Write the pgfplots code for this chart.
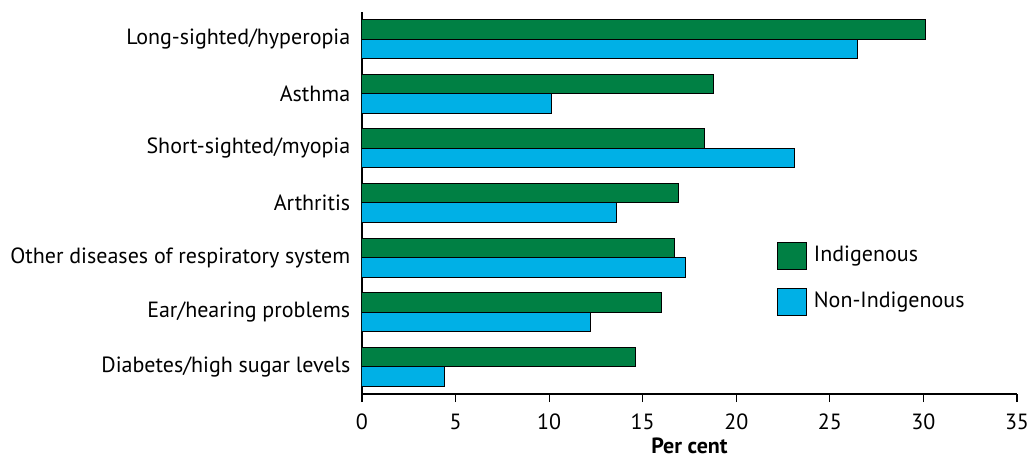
\documentclass[border=0pt]{standalone}
\usepackage{pgfplots}
\pgfplotsset{compat=1.18}
\usepackage{fontspec}
\setmainfont{PT Sans}
\definecolor{indig}{RGB}{0,128,68}
\definecolor{nonindig}{RGB}{0,176,230}
\begin{document}
\fontsize{11bp}{13.2bp}\selectfont
\begin{tikzpicture}
\path[use as bounding box] (-181bp,-32.5bp) rectangle (334bp,197bp);
\begin{axis}[
  at={(0,0)}, anchor=south west,
  scale only axis, width=327.5bp, height=191bp,
  xmin=0, xmax=35, ymin=-0.5, ymax=6.5,
  axis lines*=left,
  axis line style={line width=0.6bp, black},
  xtick={0,5,...,35},
  ytick={0,1,2,3,4,5,6},
  yticklabels={Diabetes/high sugar levels, Ear/hearing problems, Other diseases of respiratory system\hspace{2bp}, Arthritis, Short-sighted/myopia\hspace{2bp}, Asthma, Long-sighted/hyperopia\hspace{7bp}},
  tick align=outside,
  major tick length=4bp,
  ytick style={draw=none},
  xtick style={line width=0.6bp, black},
  /pgf/number format/assume math mode=true,
  tick label style={font=\fontsize{11bp}{13.2bp}\selectfont},
  yticklabel style={xshift=2bp},
  xticklabel style={yshift=-2bp},
  xlabel={Per cent},
  xlabel style={at={(axis description cs:0.5,0)}, anchor=base, yshift=-29.8bp, font=\bfseries\fontsize{11bp}{13.2bp}\selectfont},
  legend image code/.code={\draw[#1] (0bp,-6.75bp) rectangle (14.5bp,6.75bp);},
  legend style={at={(rel axis cs:0.633,0.3987)}, anchor=north west, draw=none, fill=none, inner sep=0pt, outer sep=0pt, row sep=9bp,
    font=\fontsize{11bp}{13.2bp}\selectfont,
    nodes={inner sep=0pt},
    /tikz/every odd column/.append style={column sep=3.65bp}},
  legend cell align=left,
]
\addplot[xbar, bar width=9.75bp, bar shift=4.875bp, fill=indig, draw=black, line width=0.5bp]
  coordinates {(14.6,0) (16.0,1) (16.7,2) (16.9,3) (18.3,4) (18.8,5) (30.1,6)};
\addlegendentry{Indigenous}
\addplot[xbar, bar width=9.75bp, bar shift=-4.875bp, fill=nonindig, draw=black, line width=0.5bp]
  coordinates {(4.4,0) (12.2,1) (17.3,2) (13.6,3) (23.1,4) (10.1,5) (26.5,6)};
\addlegendentry{Non-Indigenous}
\end{axis}
\end{tikzpicture}
\end{document}
